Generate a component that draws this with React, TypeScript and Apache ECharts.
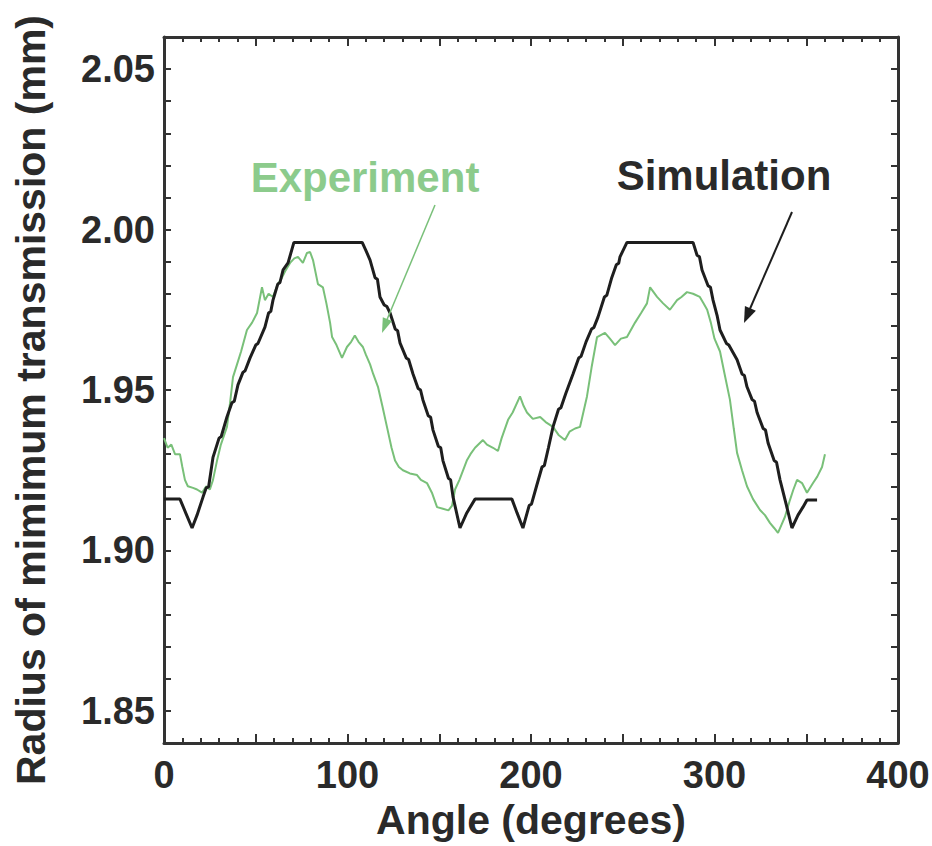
import React, { useEffect, useRef } from "react";
import * as echarts from "echarts";

// Simulation (black) — [angle, radius]
const simulation: [number, number][] = [
  [0, 1.916], [8.7, 1.916], [12, 1.9115], [15.3, 1.907], [18, 1.911], [21.3, 1.9167],
  [23, 1.9195], [24.3, 1.9198], [26.7, 1.929], [30, 1.935], [31.2, 1.9355], [34.3, 1.9416],
  [37, 1.946], [38.3, 1.9465], [40.3, 1.9516], [43, 1.9555], [44.2, 1.956], [46.9, 1.96],
  [50, 1.964], [51.2, 1.9645], [55, 1.9696], [57, 1.974], [58.2, 1.9745], [59.4, 1.978],
  [62, 1.983], [63.2, 1.9835], [64.9, 1.9874], [67.6, 1.9896], [70.8, 1.996],
  [108, 1.996], [110, 1.9935], [112.3, 1.9905], [115, 1.985], [116.3, 1.9845], [117.7, 1.979],
  [120, 1.9765], [121.5, 1.976], [123.2, 1.974], [126, 1.969], [127.3, 1.9685], [128.6, 1.9647],
  [132, 1.96], [133.3, 1.9595], [135.7, 1.955], [138.5, 1.9505], [139.8, 1.95], [141.1, 1.9469],
  [144, 1.942], [145.3, 1.9415], [146.6, 1.9375], [149.5, 1.9325], [150.8, 1.932], [152, 1.928],
  [155, 1.9225], [156.2, 1.922], [157.5, 1.9167], [161.3, 1.907], [165, 1.9117], [169.5, 1.916],
  [189.6, 1.916], [192.4, 1.9117], [195.6, 1.907], [199, 1.914], [200.3, 1.9145], [203, 1.92],
  [206, 1.926], [207.3, 1.9265], [209.5, 1.932], [212, 1.9385], [215, 1.944], [216.3, 1.9445],
  [219, 1.949], [222.9, 1.955], [226, 1.96], [227.3, 1.9605], [230, 1.965], [233, 1.969],
  [234.3, 1.9695], [236.5, 1.9727], [240, 1.979], [241.3, 1.9795], [244, 1.985], [246.5, 1.989],
  [247.8, 1.9895], [248.5, 1.9915], [252.3, 1.996],
  [288.3, 1.996], [290.5, 1.992], [291.8, 1.9915], [293.2, 1.9874], [296.5, 1.9825], [297.8, 1.982],
  [299.2, 1.978], [301.5, 1.973], [303, 1.9687], [306.5, 1.9645], [307.8, 1.964], [312.3, 1.9594],
  [315, 1.955], [316.3, 1.9545], [317.7, 1.951], [320.5, 1.947], [321.8, 1.9465], [323.2, 1.943],
  [326.5, 1.938], [327.8, 1.9375], [329.2, 1.9335], [332.5, 1.928], [333.8, 1.9275], [335.7, 1.922],
  [339, 1.9145], [342.2, 1.907], [345.5, 1.911], [348.2, 1.9135], [350.4, 1.9157], [355.9, 1.9157],
];

// Experiment (green) — [angle, radius]
const experiment: [number, number][] = [
  [0, 1.935], [2, 1.932], [4, 1.933], [6, 1.93], [8.7, 1.93], [10, 1.926], [11.4, 1.922],
  [13, 1.92], [15.8, 1.9195], [18, 1.919], [20.7, 1.918], [23, 1.92], [25, 1.919], [26.7, 1.922],
  [28.9, 1.928], [31, 1.933], [34.3, 1.9385], [36, 1.946], [37.6, 1.954], [39.8, 1.958],
  [42, 1.962], [45.2, 1.9687], [48, 1.971], [50.7, 1.974], [53.4, 1.982], [55, 1.978],
  [57, 1.98], [59.4, 1.979], [62, 1.983], [64.3, 1.985], [66, 1.987], [68.7, 1.9896],
  [71, 1.991], [73, 1.9915], [75.7, 1.9896], [77.9, 1.9927], [79.6, 1.993], [81.2, 1.9905],
  [83.9, 1.983], [86.6, 1.982], [88.5, 1.977], [90.5, 1.971], [91.6, 1.9665], [94, 1.964],
  [97, 1.96], [99.7, 1.9634], [102, 1.965], [104, 1.967], [106, 1.965], [108.4, 1.9634],
  [110, 1.961], [112.3, 1.958], [114, 1.955], [116.6, 1.951], [119, 1.945], [121.5, 1.9385],
  [124, 1.932], [125.9, 1.928], [128, 1.926], [130.2, 1.925], [134, 1.924], [137.9, 1.9235],
  [140, 1.922], [143.3, 1.921], [146, 1.918], [148.8, 1.9135], [152, 1.913], [155, 1.9125],
  [157, 1.914], [158.6, 1.919], [161, 1.922], [165, 1.928], [167, 1.93], [169.5, 1.932],
  [173.8, 1.9344], [176, 1.933], [179.3, 1.932], [182, 1.931], [184, 1.935], [187.5, 1.9407],
  [190, 1.943], [194, 1.948], [196, 1.945], [197.8, 1.943], [201, 1.941], [205, 1.9416],
  [208, 1.94], [212, 1.9385], [215, 1.936], [218.5, 1.9344], [221, 1.937], [224, 1.938],
  [226.7, 1.9385], [230.5, 1.948], [233, 1.957], [236, 1.9665], [240.3, 1.9678], [243, 1.966],
  [245.8, 1.964], [249, 1.966], [252.3, 1.9665], [256.7, 1.971], [260, 1.974], [263.2, 1.977],
  [264.9, 1.982], [268.7, 1.979], [272, 1.977], [275.7, 1.975], [279.6, 1.978], [282, 1.979],
  [285, 1.9805], [288.3, 1.98], [292, 1.979], [294, 1.977], [296, 1.975], [298, 1.971],
  [300, 1.966], [303, 1.962], [305.5, 1.955], [308.4, 1.947], [310.5, 1.938], [312.3, 1.9304],
  [315, 1.925], [317.7, 1.92], [321, 1.916], [324.8, 1.9126], [327.5, 1.911], [330.2, 1.9086],
  [332.5, 1.907], [334.6, 1.9055], [336.5, 1.908], [338.4, 1.9105], [341.1, 1.9157], [343, 1.919],
  [345, 1.922], [347.7, 1.921], [350.4, 1.918], [353.7, 1.921], [356, 1.923], [358.6, 1.926],
  [360.2, 1.93],
];

const xTitle = "Angle (degrees)";
const yTitle = "Radius of mimimum transmission (mm)";
const expLabel = "Experiment";
const simLabel = "Simulation";

const FONT = "'Liberation Sans', Arial, Helvetica, sans-serif";
const TEXT = "#2a2a2a";
const AXIS = "#333333";
const GREEN = "#79c079";
const GREEN_TEXT = "#8ccb8c";

export default function App() {
  const ref = useRef<HTMLDivElement>(null);
  useEffect(() => {
    if (!ref.current) return;
    const chart = echarts.init(ref.current, undefined, { renderer: "svg" });
    const axisLine = { show: true, onZero: false, lineStyle: { color: AXIS, width: 3 } };
    const xCommon = {
      type: "value" as const,
      min: 0,
      max: 400,
      interval: 50,
      axisLine,
      axisTick: { show: true, inside: true, length: 9, lineStyle: { color: AXIS, width: 2 } },
      minorTick: { show: true, splitNumber: 5, length: 5, lineStyle: { color: AXIS, width: 2 } },
      splitLine: { show: false },
      minorSplitLine: { show: false },
    };
    const yCommon = {
      type: "value" as const,
      min: 1.84,
      max: 2.06,
      interval: 0.01,
      axisLine,
      axisTick: { show: true, inside: true, length: 7, lineStyle: { color: AXIS, width: 2 } },
      splitLine: { show: false },
    };
    chart.setOption({
      animation: false,
      backgroundColor: "#ffffff",
      grid: {
        left: 164,
        right: 34,
        top: 37,
        bottom: 103,
        containLabel: false,
        outerBoundsMode: "none",
      },
      xAxis: [
        {
          ...xCommon,
          position: "bottom",
          name: xTitle,
          nameLocation: "middle",
          nameGap: 56,
          nameTextStyle: { fontFamily: FONT, fontWeight: "bold", fontSize: 41, color: TEXT },
          axisLabel: {
            show: true,
            margin: 13,
            fontFamily: FONT,
            fontWeight: "bold",
            fontSize: 38,
            color: TEXT,
            formatter: (v: number) => (Math.round(v) % 100 === 0 ? String(Math.round(v)) : ""),
          },
        },
        { ...xCommon, position: "top", axisLabel: { show: false } },
      ],
      yAxis: [
        {
          ...yCommon,
          position: "left",
          axisLabel: {
            show: true,
            margin: 9,
            fontFamily: FONT,
            fontWeight: "bold",
            fontSize: 38,
            color: TEXT,
            formatter: (v: number) => (Math.round(v * 100) % 5 === 0 ? v.toFixed(2) : ""),
          },
        },
        { ...yCommon, position: "right", axisLabel: { show: false } },
      ],
      series: [
        {
          name: expLabel,
          type: "line",
          data: experiment,
          showSymbol: false,
          lineStyle: { color: GREEN, width: 2 },
          itemStyle: { color: GREEN },
          z: 2,
        },
        {
          name: simLabel,
          type: "line",
          data: simulation,
          showSymbol: false,
          lineStyle: { color: "#1e1e1e", width: 3 },
          itemStyle: { color: "#1e1e1e" },
          z: 3,
        },
      ],
      graphic: [
        {
          type: "text",
          x: 31,
          y: 400,
          rotation: Math.PI / 2,
          style: {
            text: yTitle,
            fill: TEXT,
            font: `bold 41px ${FONT}`,
            textAlign: "center",
            textVerticalAlign: "middle",
          },
          z: 10,
        },
        {
          type: "text",
          x: 365,
          y: 177,
          style: {
            text: expLabel,
            fill: GREEN_TEXT,
            font: `bold 42px ${FONT}`,
            textAlign: "center",
            textVerticalAlign: "middle",
          },
          z: 10,
        },
        {
          type: "text",
          x: 724,
          y: 175,
          style: {
            text: simLabel,
            fill: TEXT,
            font: `bold 42px ${FONT}`,
            textAlign: "center",
            textVerticalAlign: "middle",
          },
          z: 10,
        },
        {
          type: "line",
          shape: { x1: 435, y1: 205, x2: 386, y2: 322 },
          style: { stroke: GREEN, lineWidth: 1.5 },
          z: 10,
        },
        {
          type: "polygon",
          shape: { points: [[382, 333], [392, 321], [382.8, 317.2]] },
          style: { fill: GREEN },
          z: 10,
        },
        {
          type: "line",
          shape: { x1: 792, y1: 212, x2: 749, y2: 311 },
          style: { stroke: "#1e1e1e", lineWidth: 2 },
          z: 10,
        },
        {
          type: "polygon",
          shape: { points: [[744, 323], [755.9, 310.7], [744.9, 305.9]] },
          style: { fill: "#1e1e1e" },
          z: 10,
        },
      ],
    });
    return () => chart.dispose();
  }, []);
  return (
    <div
      ref={ref}
      style={{ position: "absolute", left: 0, top: 0, width: 932, height: 846, background: "#fff" }}
    />
  );
}
